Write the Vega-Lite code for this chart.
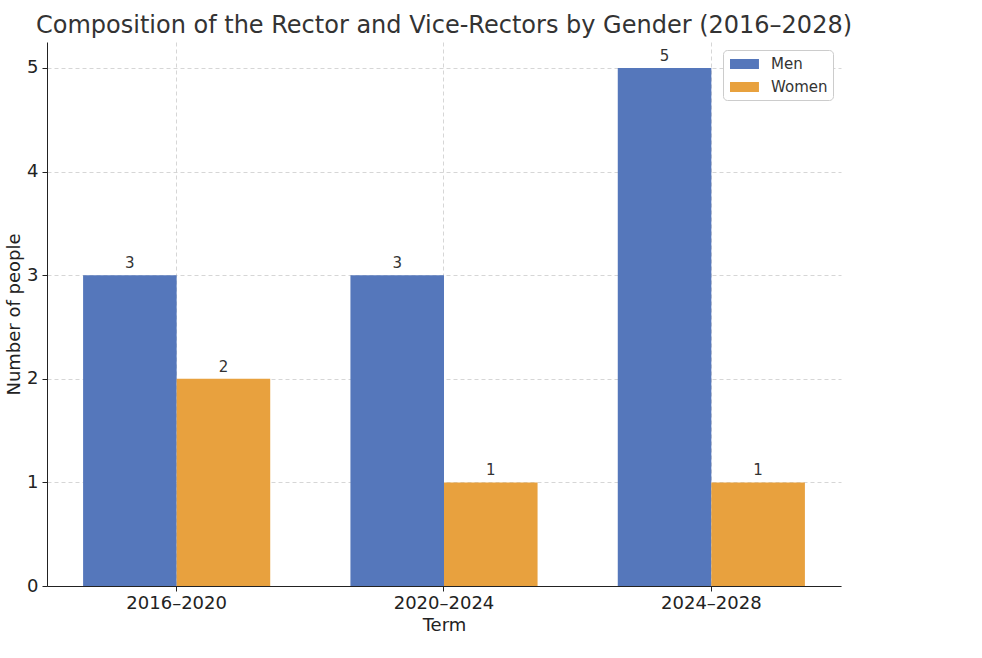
{
  "$schema": "https://vega.github.io/schema/vega-lite/v6.json",
  "width": 794,
  "height": 544,
  "autosize": {"type": "none"},
  "padding": {"left": 47, "top": 42, "right": 141, "bottom": 72},
  "background": "white",
  "config": {
    "font": "DejaVu Sans",
    "view": {"stroke": null},
    "axis": {"labelFont": "DejaVu Sans", "titleFont": "DejaVu Sans", "labelColor": "#222", "titleColor": "#222", "titleFontWeight": "normal"}
  },
  "title": {"text": "Composition of the Rector and Vice-Rectors by Gender (2016–2028)", "fontSize": 24, "font": "DejaVu Sans", "fontWeight": "normal", "color": "#333", "anchor": "middle", "offset": 4},
  "data": {"values": [
    {"term": "2016–2020", "gender": "Men", "count": 3},
    {"term": "2016–2020", "gender": "Women", "count": 2},
    {"term": "2020–2024", "gender": "Men", "count": 3},
    {"term": "2020–2024", "gender": "Women", "count": 1},
    {"term": "2024–2028", "gender": "Men", "count": 5},
    {"term": "2024–2028", "gender": "Women", "count": 1}
  ]},
  "encoding": {
    "x": {"field": "term", "type": "nominal", "sort": null,
      "scale": {"paddingInner": 0.3, "paddingOuter": 0.135},
      "axis": {"title": "Term", "labelAngle": 0, "labelFontSize": 18, "titleFontSize": 18, "labelPadding": 3, "titlePadding": 4,
        "domainColor": "#222", "tickColor": "#222", "tickSize": 5, "grid": true, "gridColor": "#cccccc", "gridDash": [4, 3], "gridWidth": 0.8}},
    "xOffset": {"field": "gender", "type": "nominal", "scale": {"paddingInner": 0, "paddingOuter": 0}},
    "y": {"field": "count", "type": "quantitative",
      "scale": {"domain": [0, 5.25], "nice": false},
      "axis": {"title": "Number of people", "values": [0, 1, 2, 3, 4, 5], "labelFontSize": 18, "titleFontSize": 18, "titlePadding": 3,
        "domainColor": "#222", "tickColor": "#222", "tickSize": 5, "labelPadding": 4, "grid": true, "gridColor": "#cccccc", "gridDash": [4, 3], "gridWidth": 0.8}}
  },
  "layer": [
    {"mark": {"type": "bar"},
     "encoding": {
       "color": {"field": "gender", "type": "nominal",
         "scale": {"domain": ["Men", "Women"], "range": ["#5577bb", "#e8a13e"]},
         "legend": {"title": null, "orient": "top-right", "offset": 8, "labelFontSize": 15, "labelColor": "#333",
           "symbolType": "M-0.78,-0.556H2.44V0.556H-0.78Z", "symbolSize": 324, "symbolStrokeWidth": 0, "symbolOpacity": 1,
           "strokeColor": "#cccccc", "fillColor": "white", "cornerRadius": 4, "padding": 5, "rowPadding": 6, "labelOffset": 25}}
     }},
    {"mark": {"type": "text", "baseline": "bottom", "dy": -4, "fontSize": 15, "color": "#333"},
     "encoding": {"text": {"field": "count", "type": "quantitative"}}}
  ]
}
